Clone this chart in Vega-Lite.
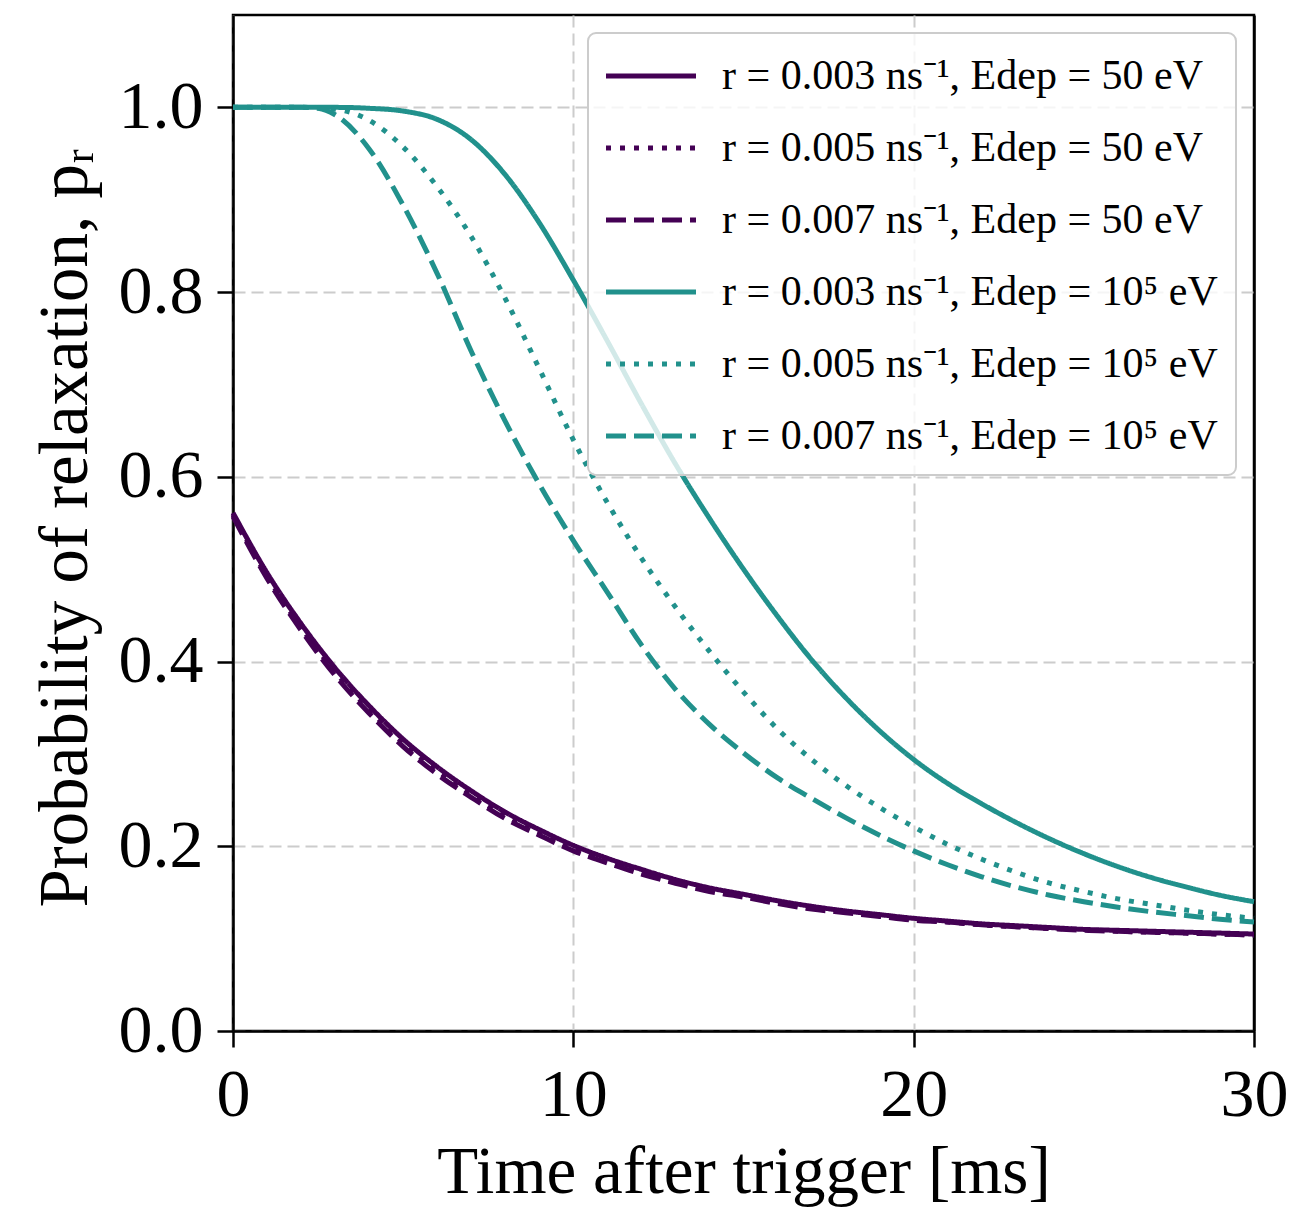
{
"$schema": "https://vega.github.io/schema/vega-lite/v6.json",
"width": 1021, "height": 1016,
"autosize": "none",
"padding": {"left": 233, "top": 15, "right": 38, "bottom": 177},
"background": "white",
"config": {
 "view": {"stroke": "black", "strokeWidth": 2.5},
 "axis": {"labelFont": "Liberation Serif", "titleFont": "Liberation Serif", "labelFontSize": 68, "titleFontSize": 67, "labelColor": "black", "titleColor": "black", "titleFontWeight": "normal", "domainColor": "black", "domainWidth": 2.5, "tickColor": "black", "tickWidth": 2.5, "tickSize": 16, "gridColor": "#cccccc", "gridDash": [12, 6], "gridWidth": 2, "labelPadding": 14},
 "legend": {"title": null, "orient": "top-right", "offset": 18, "padding": 18, "fillColor": "rgba(255,255,255,0.8)", "strokeColor": "#cccccc", "strokeWidth": 2, "cornerRadius": 8, "symbolType": "M-2,0H2", "symbolSize": 2025, "symbolStrokeWidth": 5, "symbolOffset": 20, "labelFont": "Liberation Serif", "labelFontSize": 42, "labelColor": "black", "labelOffset": 46, "rowPadding": 26, "labelLimit": 0}
},
"datasets": {
"curves": [
{"s":"r = 0.003 ns⁻¹, Edep = 50 eV","t":0,"p":0.561},{"s":"r = 0.003 ns⁻¹, Edep = 50 eV","t":1,"p":0.496},{"s":"r = 0.003 ns⁻¹, Edep = 50 eV","t":2,"p":0.441},{"s":"r = 0.003 ns⁻¹, Edep = 50 eV","t":3,"p":0.393},{"s":"r = 0.003 ns⁻¹, Edep = 50 eV","t":4,"p":0.352},{"s":"r = 0.003 ns⁻¹, Edep = 50 eV","t":5,"p":0.316},{"s":"r = 0.003 ns⁻¹, Edep = 50 eV","t":6,"p":0.286},{"s":"r = 0.003 ns⁻¹, Edep = 50 eV","t":7,"p":0.260},{"s":"r = 0.003 ns⁻¹, Edep = 50 eV","t":8,"p":0.237},{"s":"r = 0.003 ns⁻¹, Edep = 50 eV","t":9,"p":0.218},{"s":"r = 0.003 ns⁻¹, Edep = 50 eV","t":10,"p":0.201},{"s":"r = 0.003 ns⁻¹, Edep = 50 eV","t":11,"p":0.187},{"s":"r = 0.003 ns⁻¹, Edep = 50 eV","t":12,"p":0.175},{"s":"r = 0.003 ns⁻¹, Edep = 50 eV","t":13,"p":0.164},{"s":"r = 0.003 ns⁻¹, Edep = 50 eV","t":14,"p":0.155},{"s":"r = 0.003 ns⁻¹, Edep = 50 eV","t":15,"p":0.148},{"s":"r = 0.003 ns⁻¹, Edep = 50 eV","t":16,"p":0.141},{"s":"r = 0.003 ns⁻¹, Edep = 50 eV","t":17,"p":0.135},{"s":"r = 0.003 ns⁻¹, Edep = 50 eV","t":18,"p":0.130},{"s":"r = 0.003 ns⁻¹, Edep = 50 eV","t":19,"p":0.126},{"s":"r = 0.003 ns⁻¹, Edep = 50 eV","t":20,"p":0.122},{"s":"r = 0.003 ns⁻¹, Edep = 50 eV","t":21,"p":0.119},{"s":"r = 0.003 ns⁻¹, Edep = 50 eV","t":22,"p":0.116},{"s":"r = 0.003 ns⁻¹, Edep = 50 eV","t":23,"p":0.114},{"s":"r = 0.003 ns⁻¹, Edep = 50 eV","t":24,"p":0.112},{"s":"r = 0.003 ns⁻¹, Edep = 50 eV","t":25,"p":0.110},{"s":"r = 0.003 ns⁻¹, Edep = 50 eV","t":26,"p":0.109},{"s":"r = 0.003 ns⁻¹, Edep = 50 eV","t":27,"p":0.108},{"s":"r = 0.003 ns⁻¹, Edep = 50 eV","t":28,"p":0.107},{"s":"r = 0.003 ns⁻¹, Edep = 50 eV","t":29,"p":0.106},{"s":"r = 0.003 ns⁻¹, Edep = 50 eV","t":30,"p":0.105},
{"s":"r = 0.005 ns⁻¹, Edep = 50 eV","t":0,"p":0.559},{"s":"r = 0.005 ns⁻¹, Edep = 50 eV","t":1,"p":0.493},{"s":"r = 0.005 ns⁻¹, Edep = 50 eV","t":2,"p":0.437},{"s":"r = 0.005 ns⁻¹, Edep = 50 eV","t":3,"p":0.389},{"s":"r = 0.005 ns⁻¹, Edep = 50 eV","t":4,"p":0.348},{"s":"r = 0.005 ns⁻¹, Edep = 50 eV","t":5,"p":0.312},{"s":"r = 0.005 ns⁻¹, Edep = 50 eV","t":6,"p":0.282},{"s":"r = 0.005 ns⁻¹, Edep = 50 eV","t":7,"p":0.256},{"s":"r = 0.005 ns⁻¹, Edep = 50 eV","t":8,"p":0.233},{"s":"r = 0.005 ns⁻¹, Edep = 50 eV","t":9,"p":0.215},{"s":"r = 0.005 ns⁻¹, Edep = 50 eV","t":10,"p":0.198},{"s":"r = 0.005 ns⁻¹, Edep = 50 eV","t":11,"p":0.184},{"s":"r = 0.005 ns⁻¹, Edep = 50 eV","t":12,"p":0.172},{"s":"r = 0.005 ns⁻¹, Edep = 50 eV","t":13,"p":0.162},{"s":"r = 0.005 ns⁻¹, Edep = 50 eV","t":14,"p":0.153},{"s":"r = 0.005 ns⁻¹, Edep = 50 eV","t":15,"p":0.146},{"s":"r = 0.005 ns⁻¹, Edep = 50 eV","t":16,"p":0.139},{"s":"r = 0.005 ns⁻¹, Edep = 50 eV","t":17,"p":0.133},{"s":"r = 0.005 ns⁻¹, Edep = 50 eV","t":18,"p":0.129},{"s":"r = 0.005 ns⁻¹, Edep = 50 eV","t":19,"p":0.125},{"s":"r = 0.005 ns⁻¹, Edep = 50 eV","t":20,"p":0.121},{"s":"r = 0.005 ns⁻¹, Edep = 50 eV","t":21,"p":0.118},{"s":"r = 0.005 ns⁻¹, Edep = 50 eV","t":22,"p":0.115},{"s":"r = 0.005 ns⁻¹, Edep = 50 eV","t":23,"p":0.113},{"s":"r = 0.005 ns⁻¹, Edep = 50 eV","t":24,"p":0.111},{"s":"r = 0.005 ns⁻¹, Edep = 50 eV","t":25,"p":0.110},{"s":"r = 0.005 ns⁻¹, Edep = 50 eV","t":26,"p":0.108},{"s":"r = 0.005 ns⁻¹, Edep = 50 eV","t":27,"p":0.107},{"s":"r = 0.005 ns⁻¹, Edep = 50 eV","t":28,"p":0.106},{"s":"r = 0.005 ns⁻¹, Edep = 50 eV","t":29,"p":0.105},{"s":"r = 0.005 ns⁻¹, Edep = 50 eV","t":30,"p":0.104},
{"s":"r = 0.007 ns⁻¹, Edep = 50 eV","t":0,"p":0.557},{"s":"r = 0.007 ns⁻¹, Edep = 50 eV","t":1,"p":0.490},{"s":"r = 0.007 ns⁻¹, Edep = 50 eV","t":2,"p":0.434},{"s":"r = 0.007 ns⁻¹, Edep = 50 eV","t":3,"p":0.385},{"s":"r = 0.007 ns⁻¹, Edep = 50 eV","t":4,"p":0.344},{"s":"r = 0.007 ns⁻¹, Edep = 50 eV","t":5,"p":0.308},{"s":"r = 0.007 ns⁻¹, Edep = 50 eV","t":6,"p":0.278},{"s":"r = 0.007 ns⁻¹, Edep = 50 eV","t":7,"p":0.253},{"s":"r = 0.007 ns⁻¹, Edep = 50 eV","t":8,"p":0.230},{"s":"r = 0.007 ns⁻¹, Edep = 50 eV","t":9,"p":0.212},{"s":"r = 0.007 ns⁻¹, Edep = 50 eV","t":10,"p":0.195},{"s":"r = 0.007 ns⁻¹, Edep = 50 eV","t":11,"p":0.182},{"s":"r = 0.007 ns⁻¹, Edep = 50 eV","t":12,"p":0.170},{"s":"r = 0.007 ns⁻¹, Edep = 50 eV","t":13,"p":0.160},{"s":"r = 0.007 ns⁻¹, Edep = 50 eV","t":14,"p":0.151},{"s":"r = 0.007 ns⁻¹, Edep = 50 eV","t":15,"p":0.145},{"s":"r = 0.007 ns⁻¹, Edep = 50 eV","t":16,"p":0.138},{"s":"r = 0.007 ns⁻¹, Edep = 50 eV","t":17,"p":0.132},{"s":"r = 0.007 ns⁻¹, Edep = 50 eV","t":18,"p":0.128},{"s":"r = 0.007 ns⁻¹, Edep = 50 eV","t":19,"p":0.124},{"s":"r = 0.007 ns⁻¹, Edep = 50 eV","t":20,"p":0.120},{"s":"r = 0.007 ns⁻¹, Edep = 50 eV","t":21,"p":0.118},{"s":"r = 0.007 ns⁻¹, Edep = 50 eV","t":22,"p":0.115},{"s":"r = 0.007 ns⁻¹, Edep = 50 eV","t":23,"p":0.113},{"s":"r = 0.007 ns⁻¹, Edep = 50 eV","t":24,"p":0.111},{"s":"r = 0.007 ns⁻¹, Edep = 50 eV","t":25,"p":0.109},{"s":"r = 0.007 ns⁻¹, Edep = 50 eV","t":26,"p":0.108},{"s":"r = 0.007 ns⁻¹, Edep = 50 eV","t":27,"p":0.107},{"s":"r = 0.007 ns⁻¹, Edep = 50 eV","t":28,"p":0.106},{"s":"r = 0.007 ns⁻¹, Edep = 50 eV","t":29,"p":0.105},{"s":"r = 0.007 ns⁻¹, Edep = 50 eV","t":30,"p":0.104},
{"s":"r = 0.003 ns⁻¹, Edep = 10⁵ eV","t":0,"p":1.0},{"s":"r = 0.003 ns⁻¹, Edep = 10⁵ eV","t":1,"p":1.0},{"s":"r = 0.003 ns⁻¹, Edep = 10⁵ eV","t":2,"p":1.0},{"s":"r = 0.003 ns⁻¹, Edep = 10⁵ eV","t":3,"p":1.0},{"s":"r = 0.003 ns⁻¹, Edep = 10⁵ eV","t":4,"p":0.999},{"s":"r = 0.003 ns⁻¹, Edep = 10⁵ eV","t":5,"p":0.996},{"s":"r = 0.003 ns⁻¹, Edep = 10⁵ eV","t":6,"p":0.987},{"s":"r = 0.003 ns⁻¹, Edep = 10⁵ eV","t":7,"p":0.965},{"s":"r = 0.003 ns⁻¹, Edep = 10⁵ eV","t":8,"p":0.927},{"s":"r = 0.003 ns⁻¹, Edep = 10⁵ eV","t":9,"p":0.875},{"s":"r = 0.003 ns⁻¹, Edep = 10⁵ eV","t":10,"p":0.813},{"s":"r = 0.003 ns⁻¹, Edep = 10⁵ eV","t":11,"p":0.747},{"s":"r = 0.003 ns⁻¹, Edep = 10⁵ eV","t":12,"p":0.679},{"s":"r = 0.003 ns⁻¹, Edep = 10⁵ eV","t":13,"p":0.614},{"s":"r = 0.003 ns⁻¹, Edep = 10⁵ eV","t":14,"p":0.555},{"s":"r = 0.003 ns⁻¹, Edep = 10⁵ eV","t":15,"p":0.500},{"s":"r = 0.003 ns⁻¹, Edep = 10⁵ eV","t":16,"p":0.449},{"s":"r = 0.003 ns⁻¹, Edep = 10⁵ eV","t":17,"p":0.402},{"s":"r = 0.003 ns⁻¹, Edep = 10⁵ eV","t":18,"p":0.361},{"s":"r = 0.003 ns⁻¹, Edep = 10⁵ eV","t":19,"p":0.325},{"s":"r = 0.003 ns⁻¹, Edep = 10⁵ eV","t":20,"p":0.294},{"s":"r = 0.003 ns⁻¹, Edep = 10⁵ eV","t":21,"p":0.268},{"s":"r = 0.003 ns⁻¹, Edep = 10⁵ eV","t":22,"p":0.246},{"s":"r = 0.003 ns⁻¹, Edep = 10⁵ eV","t":23,"p":0.226},{"s":"r = 0.003 ns⁻¹, Edep = 10⁵ eV","t":24,"p":0.208},{"s":"r = 0.003 ns⁻¹, Edep = 10⁵ eV","t":25,"p":0.192},{"s":"r = 0.003 ns⁻¹, Edep = 10⁵ eV","t":26,"p":0.178},{"s":"r = 0.003 ns⁻¹, Edep = 10⁵ eV","t":27,"p":0.166},{"s":"r = 0.003 ns⁻¹, Edep = 10⁵ eV","t":28,"p":0.156},{"s":"r = 0.003 ns⁻¹, Edep = 10⁵ eV","t":29,"p":0.147},{"s":"r = 0.003 ns⁻¹, Edep = 10⁵ eV","t":30,"p":0.140},
{"s":"r = 0.005 ns⁻¹, Edep = 10⁵ eV","t":0,"p":1.0},{"s":"r = 0.005 ns⁻¹, Edep = 10⁵ eV","t":1,"p":1.0},{"s":"r = 0.005 ns⁻¹, Edep = 10⁵ eV","t":2,"p":1.0},{"s":"r = 0.005 ns⁻¹, Edep = 10⁵ eV","t":3,"p":0.998},{"s":"r = 0.005 ns⁻¹, Edep = 10⁵ eV","t":4,"p":0.986},{"s":"r = 0.005 ns⁻¹, Edep = 10⁵ eV","t":5,"p":0.957},{"s":"r = 0.005 ns⁻¹, Edep = 10⁵ eV","t":6,"p":0.914},{"s":"r = 0.005 ns⁻¹, Edep = 10⁵ eV","t":7,"p":0.860},{"s":"r = 0.005 ns⁻¹, Edep = 10⁵ eV","t":8,"p":0.793},{"s":"r = 0.005 ns⁻¹, Edep = 10⁵ eV","t":9,"p":0.717},{"s":"r = 0.005 ns⁻¹, Edep = 10⁵ eV","t":10,"p":0.640},{"s":"r = 0.005 ns⁻¹, Edep = 10⁵ eV","t":11,"p":0.572},{"s":"r = 0.005 ns⁻¹, Edep = 10⁵ eV","t":12,"p":0.512},{"s":"r = 0.005 ns⁻¹, Edep = 10⁵ eV","t":13,"p":0.459},{"s":"r = 0.005 ns⁻¹, Edep = 10⁵ eV","t":14,"p":0.411},{"s":"r = 0.005 ns⁻¹, Edep = 10⁵ eV","t":15,"p":0.367},{"s":"r = 0.005 ns⁻¹, Edep = 10⁵ eV","t":16,"p":0.327},{"s":"r = 0.005 ns⁻¹, Edep = 10⁵ eV","t":17,"p":0.294},{"s":"r = 0.005 ns⁻¹, Edep = 10⁵ eV","t":18,"p":0.266},{"s":"r = 0.005 ns⁻¹, Edep = 10⁵ eV","t":19,"p":0.242},{"s":"r = 0.005 ns⁻¹, Edep = 10⁵ eV","t":20,"p":0.221},{"s":"r = 0.005 ns⁻¹, Edep = 10⁵ eV","t":21,"p":0.202},{"s":"r = 0.005 ns⁻¹, Edep = 10⁵ eV","t":22,"p":0.186},{"s":"r = 0.005 ns⁻¹, Edep = 10⁵ eV","t":23,"p":0.172},{"s":"r = 0.005 ns⁻¹, Edep = 10⁵ eV","t":24,"p":0.160},{"s":"r = 0.005 ns⁻¹, Edep = 10⁵ eV","t":25,"p":0.151},{"s":"r = 0.005 ns⁻¹, Edep = 10⁵ eV","t":26,"p":0.143},{"s":"r = 0.005 ns⁻¹, Edep = 10⁵ eV","t":27,"p":0.137},{"s":"r = 0.005 ns⁻¹, Edep = 10⁵ eV","t":28,"p":0.131},{"s":"r = 0.005 ns⁻¹, Edep = 10⁵ eV","t":29,"p":0.126},{"s":"r = 0.005 ns⁻¹, Edep = 10⁵ eV","t":30,"p":0.122},
{"s":"r = 0.007 ns⁻¹, Edep = 10⁵ eV","t":0,"p":1.0},{"s":"r = 0.007 ns⁻¹, Edep = 10⁵ eV","t":1,"p":1.0},{"s":"r = 0.007 ns⁻¹, Edep = 10⁵ eV","t":2,"p":1.0},{"s":"r = 0.007 ns⁻¹, Edep = 10⁵ eV","t":2.5,"p":0.999},{"s":"r = 0.007 ns⁻¹, Edep = 10⁵ eV","t":3,"p":0.992},{"s":"r = 0.007 ns⁻¹, Edep = 10⁵ eV","t":4,"p":0.955},{"s":"r = 0.007 ns⁻¹, Edep = 10⁵ eV","t":5,"p":0.894},{"s":"r = 0.007 ns⁻¹, Edep = 10⁵ eV","t":6,"p":0.820},{"s":"r = 0.007 ns⁻¹, Edep = 10⁵ eV","t":7,"p":0.736},{"s":"r = 0.007 ns⁻¹, Edep = 10⁵ eV","t":8,"p":0.660},{"s":"r = 0.007 ns⁻¹, Edep = 10⁵ eV","t":9,"p":0.592},{"s":"r = 0.007 ns⁻¹, Edep = 10⁵ eV","t":10,"p":0.531},{"s":"r = 0.007 ns⁻¹, Edep = 10⁵ eV","t":11,"p":0.475},{"s":"r = 0.007 ns⁻¹, Edep = 10⁵ eV","t":12,"p":0.418},{"s":"r = 0.007 ns⁻¹, Edep = 10⁵ eV","t":13,"p":0.370},{"s":"r = 0.007 ns⁻¹, Edep = 10⁵ eV","t":14,"p":0.332},{"s":"r = 0.007 ns⁻¹, Edep = 10⁵ eV","t":15,"p":0.301},{"s":"r = 0.007 ns⁻¹, Edep = 10⁵ eV","t":16,"p":0.274},{"s":"r = 0.007 ns⁻¹, Edep = 10⁵ eV","t":17,"p":0.252},{"s":"r = 0.007 ns⁻¹, Edep = 10⁵ eV","t":18,"p":0.231},{"s":"r = 0.007 ns⁻¹, Edep = 10⁵ eV","t":19,"p":0.212},{"s":"r = 0.007 ns⁻¹, Edep = 10⁵ eV","t":20,"p":0.195},{"s":"r = 0.007 ns⁻¹, Edep = 10⁵ eV","t":21,"p":0.180},{"s":"r = 0.007 ns⁻¹, Edep = 10⁵ eV","t":22,"p":0.167},{"s":"r = 0.007 ns⁻¹, Edep = 10⁵ eV","t":23,"p":0.156},{"s":"r = 0.007 ns⁻¹, Edep = 10⁵ eV","t":24,"p":0.147},{"s":"r = 0.007 ns⁻¹, Edep = 10⁵ eV","t":25,"p":0.140},{"s":"r = 0.007 ns⁻¹, Edep = 10⁵ eV","t":26,"p":0.134},{"s":"r = 0.007 ns⁻¹, Edep = 10⁵ eV","t":27,"p":0.129},{"s":"r = 0.007 ns⁻¹, Edep = 10⁵ eV","t":28,"p":0.125},{"s":"r = 0.007 ns⁻¹, Edep = 10⁵ eV","t":29,"p":0.121},{"s":"r = 0.007 ns⁻¹, Edep = 10⁵ eV","t":30,"p":0.118}
]
},
"data": {"name": "curves"},
"mark": {"type": "line", "strokeWidth": 5, "interpolate": "monotone"},
"encoding": {
 "x": {"field": "t", "type": "quantitative", "scale": {"domain": [0, 30], "nice": false}, "axis": {"values": [0, 10, 20, 30], "title": "Time after trigger [ms]", "labelFlush": false, "titlePadding": 10, "gridDash": {"condition": {"test": "datum.value >= 30", "value": [1, 0]}, "value": [12, 6]}, "gridColor": {"condition": {"test": "datum.value >= 30", "value": "black"}, "value": "#cccccc"}, "gridWidth": {"condition": {"test": "datum.value >= 30", "value": 2.5}, "value": 2}}},
 "y": {"field": "p", "type": "quantitative", "scale": {"domain": [0, 1.1], "nice": false, "zero": false}, "axis": {"values": [0, 0.2, 0.4, 0.6, 0.8, 1.0], "format": ".1f", "title": "Probability of relaxation, pᵣ", "titleFontSize": 69, "titleY": 892, "titleAlign": "left", "titlePadding": 18}},
 "color": {"field": "s", "type": "nominal", "scale": {"domain": ["r = 0.003 ns⁻¹, Edep = 50 eV", "r = 0.005 ns⁻¹, Edep = 50 eV", "r = 0.007 ns⁻¹, Edep = 50 eV", "r = 0.003 ns⁻¹, Edep = 10⁵ eV", "r = 0.005 ns⁻¹, Edep = 10⁵ eV", "r = 0.007 ns⁻¹, Edep = 10⁵ eV"], "range": ["#440154", "#440154", "#440154", "#21918c", "#21918c", "#21918c"]}},
 "strokeDash": {"field": "s", "type": "nominal", "scale": {"domain": ["r = 0.003 ns⁻¹, Edep = 50 eV", "r = 0.005 ns⁻¹, Edep = 50 eV", "r = 0.007 ns⁻¹, Edep = 50 eV", "r = 0.003 ns⁻¹, Edep = 10⁵ eV", "r = 0.005 ns⁻¹, Edep = 10⁵ eV", "r = 0.007 ns⁻¹, Edep = 10⁵ eV"], "range": [[1, 0], [5, 9], [20, 8], [1, 0], [5, 9], [20, 8]]}}
}
}
